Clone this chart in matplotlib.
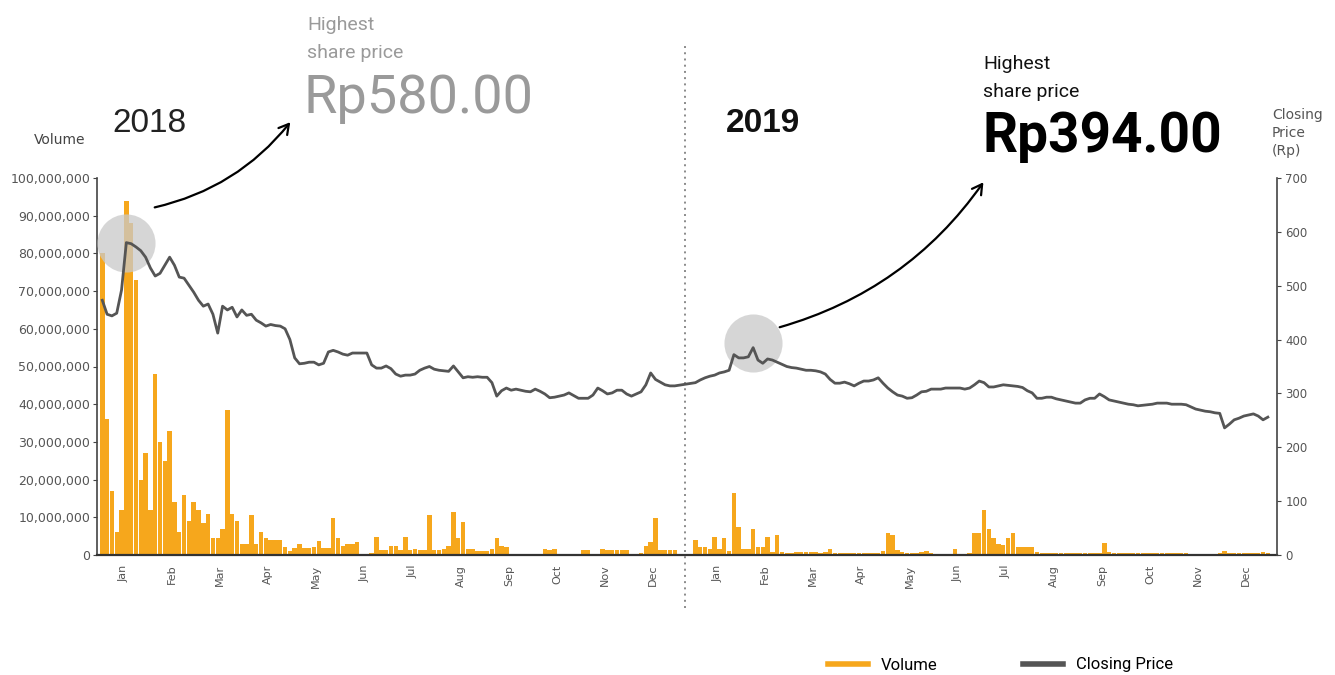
import numpy as np
import matplotlib
matplotlib.use("Agg")
import matplotlib.pyplot as plt
from matplotlib.lines import Line2D
from matplotlib.ticker import FuncFormatter

# ---------------- data ----------------
MONTHS = ["Jan", "Feb", "Mar", "Apr", "May", "Jun",
          "Jul", "Aug", "Sep", "Oct", "Nov", "Dec"]
YEARS = ["2018", "2019"]

# closing price (Rp), sampled ~every 2 trading days, per month
price_2018 = [
    [473, 447, 444, 449, 492, 580, 578, 572, 565, 553],
    [533, 518, 523, 538, 553, 538, 516, 514, 501, 488],
    [473, 462, 466, 447, 412, 462, 455, 460, 442, 455],
    [445, 447, 436, 431, 425, 428, 426, 425, 420, 400],
    [366, 355, 356, 358, 358, 353, 356, 377, 380, 377],
    [373, 371, 375, 375, 375, 375, 353, 347, 347, 351],
    [346, 336, 332, 334, 334, 336, 343, 347, 350, 345],
    [343, 342, 341, 351, 340, 329, 331, 330, 331, 330],
    [330, 320, 295, 305, 310, 306, 308, 306, 304, 303],
    [308, 304, 299, 292, 293, 295, 297, 301, 296, 291],
    [291, 291, 297, 310, 305, 299, 301, 306, 306, 299],
    [295, 299, 303, 316, 338, 326, 321, 316, 314, 314],
]
price_2019 = [
    [320, 325, 329, 332, 334, 338, 340, 343, 372, 366],
    [366, 368, 385, 362, 356, 364, 362, 358, 354, 350],
    [348, 347, 345, 343, 343, 342, 340, 336, 326, 319],
    [319, 321, 318, 314, 319, 323, 323, 325, 329, 319],
    [310, 303, 297, 295, 291, 292, 297, 303, 304, 308],
    [308, 308, 310, 310, 310, 310, 308, 310, 316, 323],
    [320, 312, 312, 314, 316, 315, 314, 313, 311, 305],
    [301, 291, 291, 293, 293, 290, 288, 286, 284, 282],
    [282, 288, 291, 291, 299, 294, 288, 286, 284, 282],
    [280, 279, 277, 278, 279, 280, 282, 282, 282, 280],
    [280, 280, 279, 275, 271, 269, 267, 266, 264, 263],
    [236, 243, 251, 254, 258, 260, 262, 258, 251, 256],
]

# trading volume (million shares), per month
volume_2018 = [
    [80, 36, 17, 6, 12, 94, 88, 73, 20, 27],
    [12, 48, 30, 25, 33, 14, 6, 16, 9, 14],
    [12, 8.5, 11, 4.5, 4.5, 7, 38.5, 11, 9, 3],
    [3, 10.5, 3, 6, 4.5, 4, 4, 4, 2, 1],
    [1.9, 3, 1.9, 1.9, 2, 3.7, 1.9, 1.9, 9.8, 4.5],
    [2.5, 3, 3, 3.5, 0.3, 0.3, 0.5, 4.7, 1.3, 1.3],
    [2.5, 2.5, 1.3, 4.7, 1.3, 1.5, 1.3, 1.3, 10.6, 1.3],
    [1.3, 1.5, 2.5, 11.4, 4.5, 8.7, 1.5, 1.5, 1, 1],
    [1, 1.5, 4.5, 2.5, 2, 0.3, 0.3, 0.3, 0.3, 0.3],
    [0.3, 0.3, 1.6, 1.2, 1.6, 0.3, 0.3, 0.3, 0.3, 0.3],
    [1.2, 1.2, 0.3, 0.3, 1.5, 1.2, 1.2, 1.2, 1.2, 1.2],
    [0.3, 0.3, 0.5, 2.5, 3.5, 9.8, 1.2, 1.2, 1.2, 1.2],
]
volume_2019 = [
    [4, 2, 2, 1.5, 4.8, 1.5, 4.5, 1, 16.4, 7.5],
    [1.5, 1.5, 7, 2.2, 2.2, 4.8, 0.8, 5.3, 0.8, 0.6],
    [0.6, 0.8, 0.8, 0.7, 0.9, 0.7, 0.6, 0.8, 1.6, 0.5],
    [0.5, 0.5, 0.4, 0.5, 0.5, 0.6, 0.5, 0.6, 0.5, 1],
    [5.8, 5.2, 1.2, 0.8, 0.6, 0.5, 0.5, 0.8, 1.0, 0.5],
    [0.3, 0.3, 0.3, 0.3, 1.6, 0.3, 0.3, 0.5, 5.8, 5.8],
    [12, 7, 4.5, 3, 2.7, 4.5, 5.8, 2, 2, 2.2],
    [2.2, 0.8, 0.5, 0.5, 0.5, 0.5, 0.4, 0.4, 0.4, 0.4],
    [0.4, 0.4, 0.4, 0.5, 0.6, 3.2, 0.8, 0.4, 0.4, 0.4],
    [0.4, 0.4, 0.4, 0.4, 0.4, 0.4, 0.4, 0.4, 0.4, 0.4],
    [0.4, 0.4, 0.4, 0.3, 0.3, 0.3, 0.3, 0.3, 0.3, 0.4],
    [1, 0.6, 0.4, 0.4, 0.4, 0.4, 0.4, 0.4, 0.9, 0.5],
]

highest_price = [580, 394]
vol_ticks = list(range(0, 100_000_001, 10_000_000))
price_ticks = list(range(0, 701, 100))

# ---------------- layout / style ----------------
W, H = 1335, 675
GAP = 0.33                 # gap (in months) between the two year panels
ORANGE = "#F6A71C"
LINE = "#555555"
TICKC = "#555555"


def fx(px):
    return px / W


def fy(py):
    return 1 - py / H


def place(year_idx, monthly):
    xs, ys, ws = [], [], []
    for m, vals in enumerate(monthly):
        n = len(vals)
        for i, v in enumerate(vals):
            xs.append(year_idx * (12 + GAP) + m + (i + 0.5) / n)
            ys.append(v)
            ws.append(0.92 / n)
    return np.array(xs), np.array(ys, dtype=float), np.array(ws)


fig = plt.figure(figsize=(W / 100, H / 100), dpi=100)
ax = fig.add_axes([fx(97), fy(555), 1180 / W, 377 / H])
ax2 = ax.twinx()

# volume bars
for k, vol in enumerate([volume_2018, volume_2019]):
    xv, yv, wv = place(k, vol)
    ax.bar(xv, yv * 1e6, width=wv, color=ORANGE, linewidth=0, zorder=2)

# closing price line (both years continuous)
xp1, yp1, _ = place(0, price_2018)
xp2, yp2, _ = place(1, price_2019)
xp = np.concatenate([xp1, xp2])
yp = np.concatenate([yp1, yp2])
ax2.plot(xp, yp, color=LINE, lw=2.0, zorder=5, solid_joinstyle="round")

# highlight circles at highest price
for xs_, ys_, hi in [(xp1, yp1, highest_price[0]), (xp2, yp2, highest_price[1])]:
    xi = xs_[int(np.argmax(ys_))]
    ax2.scatter([xi], [hi], s=1750, color="#c9c9c9", alpha=0.75,
                linewidths=0, zorder=3)

# axes limits & ticks
ax.set_xlim(-0.06, 24.47)
ax.set_ylim(0, 100_000_000)
ax2.set_ylim(0, 700)
ax.set_yticks(vol_ticks)
ax.yaxis.set_major_formatter(FuncFormatter(lambda v, p: f"{int(v):,}"))
ax2.set_yticks(price_ticks)

tick_pos = [k * (12 + GAP) + m + 0.5 for k in range(2) for m in range(12)]
ax.set_xticks(tick_pos)
ax.set_xticklabels(MONTHS * 2, rotation=90, fontsize=8, color=TICKC)
ax.tick_params(axis="x", length=0, pad=7)
ax.tick_params(axis="y", length=3, width=0.8, colors="#444", labelsize=9,
               labelcolor=TICKC, pad=2)
ax2.tick_params(axis="y", length=3, width=0.8, colors="#444", labelsize=8.5,
                labelcolor=TICKC, pad=3)

for a in (ax, ax2):
    a.spines["top"].set_visible(False)
ax.spines["right"].set_visible(False)
ax.spines["left"].set_color("#444")
ax.spines["left"].set_linewidth(1.2)
ax.spines["bottom"].set_color("#333")
ax.spines["bottom"].set_linewidth(1.6)
ax2.spines["left"].set_visible(False)
ax2.spines["bottom"].set_visible(False)
ax2.spines["right"].set_color("#444")
ax2.spines["right"].set_linewidth(1.2)

# year divider
xdiv = 12 + GAP / 2
ax.plot([xdiv, xdiv], [-0.14, 1.36], transform=ax.get_xaxis_transform(),
        clip_on=False, color="#8a8a8a", lw=1.4, ls=(0, (1, 2.2)), zorder=1)

# texts
fig.text(fx(34), fy(140), "Volume", fontsize=10, color="#444", va="center",
         ha="left", family="DejaVu Sans")
fig.text(fx(112), fy(124), YEARS[0], fontsize=24, color="#222", va="center",
         ha="left", family="Liberation Sans")
fig.text(fx(726), fy(123), YEARS[1], fontsize=24, color="#111", va="center",
         ha="left", family="Liberation Sans", fontweight="bold")
fig.text(fx(1272), fy(133), "Closing\nPrice\n(Rp)", fontsize=10, color="#555",
         va="center", ha="left", linespacing=1.4, family="DejaVu Sans")

fig.text(fx(307), fy(25), "Highest", fontsize=14, color="#9a9a9a",
         va="center", ha="left", family="Roboto")
fig.text(fx(307), fy(53), "share price", fontsize=14, color="#9a9a9a",
         va="center", ha="left", family="Roboto")
fig.text(fx(304), fy(99), f"Rp{highest_price[0]:.2f}", fontsize=39,
         color="#9a9a9a", va="center", ha="left", family="Roboto")

fig.text(fx(983), fy(64), "Highest", fontsize=14, color="#111",
         va="center", ha="left", family="Roboto")
fig.text(fx(983), fy(92), "share price", fontsize=14, color="#111",
         va="center", ha="left", family="Roboto")
fig.text(fx(982), fy(137), f"Rp{highest_price[1]:.2f}", fontsize=39.5,
         color="#000", va="center", ha="left", family="Roboto",
         fontweight="bold")

# hand-drawn style arrows
for (x0, y0, x1, y1) in [(152, 208, 292, 120), (777, 328, 985, 180)]:
    fig.add_artist(matplotlib.patches.FancyArrowPatch(
        (fx(x0), fy(y0)), (fx(x1), fy(y1)), transform=fig.transFigure,
        connectionstyle="arc3,rad=0.18",
        arrowstyle="->,head_length=7,head_width=4",
        color="black", lw=1.6))

# legend
handles = [Line2D([], [], color=ORANGE, lw=4),
           Line2D([], [], color=LINE, lw=4)]
fig.legend(handles, ["Volume", "Closing Price"], loc="center left",
           bbox_to_anchor=(fx(821), fy(665)), ncol=2, frameon=False,
           prop={"family": "Roboto", "size": 12}, handlelength=2.4,
           handletextpad=0.8, columnspacing=5.1, borderaxespad=0)

fig.savefig("out.png", dpi=100)
